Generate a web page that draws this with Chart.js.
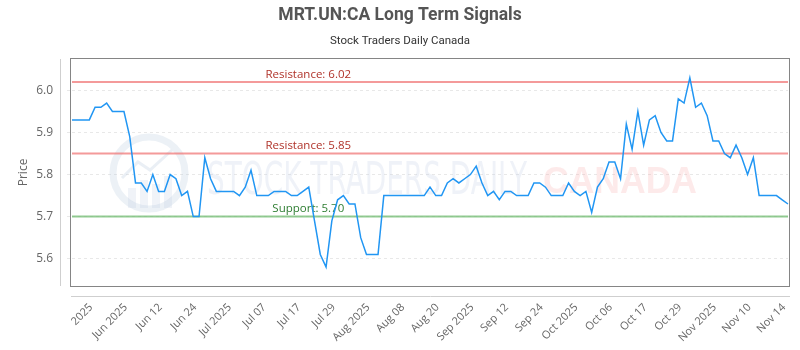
<!DOCTYPE html>
<html>
<head>
<meta charset="utf-8">
<script src="https://cdn.jsdelivr.net/npm/chart.js@4.4.1/dist/chart.umd.min.js"></script>
<style>
  html, body { margin: 0; padding: 0; background: #fff; }
  #wrap { width: 800px; height: 350px; }
</style>
</head>
<body>
<div id="wrap"><canvas id="signalChart" width="800" height="350"></canvas></div>
<script>
// Closing prices (one value per session)
const prices = [
  5.93, 5.93, 5.93, 5.93, 5.96, 5.96, 5.97, 5.95, 5.95, 5.95,
  5.89, 5.78, 5.78, 5.76, 5.80, 5.76, 5.76, 5.80, 5.79, 5.75,
  5.76, 5.70, 5.70, 5.84, 5.79, 5.76, 5.76, 5.76, 5.76, 5.75,
  5.77, 5.81, 5.75, 5.75, 5.75, 5.76, 5.76, 5.76, 5.75, 5.75,
  5.76, 5.77, 5.69, 5.61, 5.58, 5.69, 5.74, 5.75, 5.73, 5.73,
  5.65, 5.61, 5.61, 5.61, 5.75, 5.75, 5.75, 5.75, 5.75, 5.75,
  5.75, 5.75, 5.77, 5.75, 5.75, 5.78, 5.79, 5.78, 5.79, 5.80,
  5.82, 5.78, 5.75, 5.76, 5.74, 5.76, 5.76, 5.75, 5.75, 5.75,
  5.78, 5.78, 5.77, 5.75, 5.75, 5.75, 5.78, 5.76, 5.75, 5.76,
  5.71, 5.77, 5.79, 5.83, 5.83, 5.79, 5.92, 5.86, 5.95, 5.87,
  5.93, 5.94, 5.90, 5.88, 5.88, 5.98, 5.97, 6.03, 5.96, 5.97,
  5.94, 5.88, 5.88, 5.85, 5.84, 5.87, 5.84, 5.80, 5.84, 5.75,
  5.75, 5.75, 5.75, 5.74, 5.73
];

// the date labels that are shown on the x axis
const xTickLabels = [
  '2025', 'Jun 2025', 'Jun 12', 'Jun 24', 'Jul 2025', 'Jul 07', 'Jul 17',
  'Jul 29', 'Aug 2025', 'Aug 08', 'Aug 20', 'Sep 2025', 'Sep 12', 'Sep 24',
  'Oct 2025', 'Oct 06', 'Oct 17', 'Oct 29', 'Nov 2025', 'Nov 10', 'Nov 14'
];

// signal levels
const levelNames = ['Resistance', 'Resistance', 'Support'];
const levelValues = [6.02, 5.85, 5.70];

const yTicks = [5.6, 5.7, 5.8, 5.9, 6.0];

// one shown label every 6 sessions, starting at the 5th session
const labels = prices.map((_, i) => (i >= 4 && (i - 4) % 6 === 0) ? xTickLabels[(i - 4) / 6] : '');

const FONT = '"Open Sans", sans-serif';

const watermark = {
  id: 'watermark',
  beforeDatasetsDraw(chart) {
    const ctx = chart.ctx;
    ctx.save();
    // logo ring
    ctx.strokeStyle = 'rgba(170,190,215,0.22)';
    ctx.lineWidth = 7;
    ctx.beginPath();
    ctx.arc(149, 173, 36, 0, Math.PI * 2);
    ctx.stroke();
    ctx.fillStyle = 'rgba(170,190,215,0.18)';
    [[128, 188], [140, 180], [152, 184], [164, 176]].forEach(b => {
      ctx.fillRect(b[0], b[1], 8, 208 - b[1]);
    });
    ctx.strokeStyle = 'rgba(170,190,215,0.25)';
    ctx.lineWidth = 3;
    ctx.beginPath();
    ctx.moveTo(122, 178); ctx.lineTo(138, 162); ctx.lineTo(150, 170); ctx.lineTo(172, 150);
    ctx.stroke();

    // brand text
    ctx.textBaseline = 'alphabetic';
    ctx.font = '44px "DejaVu Sans"';
    let txt = 'STOCK TRADERS DAILY';
    let w = ctx.measureText(txt).width;
    ctx.fillStyle = 'rgba(180,198,222,0.22)';
    ctx.save();
    ctx.translate(207, 194);
    ctx.scale(320 / w, 1);
    ctx.fillText(txt, 0, 0);
    ctx.restore();

    ctx.font = 'bold 36px "Liberation Sans"';
    txt = 'CANADA';
    w = ctx.measureText(txt).width;
    ctx.fillStyle = 'rgba(245,150,150,0.2)';
    ctx.save();
    ctx.translate(543, 193);
    ctx.scale(154 / w, 1);
    ctx.fillText(txt, 0, 0);
    ctx.restore();
    ctx.restore();
  }
};

const levels = {
  id: 'levels',
  beforeDatasetsDraw(chart) {
    const { ctx, chartArea, scales } = chart;
    ctx.save();
    levelValues.forEach((v, k) => {
      const y = scales.y.getPixelForValue(v);
      const isRes = levelNames[k] === 'Resistance';
      ctx.strokeStyle = isRes ? 'rgba(240,120,120,0.75)' : 'rgba(110,185,110,0.75)';
      ctx.lineWidth = 2;
      ctx.beginPath();
      ctx.moveTo(chartArea.left, y);
      ctx.lineTo(chartArea.right, y);
      ctx.stroke();
      ctx.fillStyle = isRes ? '#b0332a' : '#2e7d32';
      ctx.font = '11.5px ' + FONT;
      ctx.textAlign = 'center';
      ctx.textBaseline = 'bottom';
      const x = chartArea.left + chartArea.width * 0.33;
      ctx.fillText(levelNames[k] + ': ' + v.toFixed(2), x, y - 2);
    });
    ctx.restore();
  }
};

const frame = {
  id: 'frame',
  afterDraw(chart) {
    const { ctx, chartArea: a } = chart;
    ctx.save();
    ctx.strokeStyle = '#858585';
    ctx.lineWidth = 1;
    ctx.strokeRect(Math.round(a.left) - 1.5, Math.round(a.top) - 0.5,
      Math.round(a.right - a.left) + 3, Math.round(a.bottom - a.top) + 1);
    ctx.strokeStyle = '#cfcfcf';
    ctx.beginPath();
    ctx.moveTo(Math.round(a.left) - 11.5, Math.round(a.top));
    ctx.lineTo(Math.round(a.left) - 11.5, Math.round(a.bottom));
    ctx.moveTo(Math.round(a.left) - 1, Math.round(a.bottom) + 10.5);
    ctx.lineTo(Math.round(a.right) + 2, Math.round(a.bottom) + 10.5);
    ctx.stroke();
    ctx.restore();
  }
};

new Chart(document.getElementById('signalChart'), {
  type: 'line',
  data: {
    labels: labels,
    datasets: [{
      label: 'MRT.UN:CA',
      data: prices,
      borderColor: '#2196f3',
      borderWidth: 1.5,
      pointRadius: 0,
      tension: 0,
      fill: false
    }]
  },
  options: {
    responsive: false,
    animation: false,
    layout: { padding: { left: 12, right: 12, top: 0, bottom: 0 } },
    plugins: {
      legend: { display: false },
      tooltip: { enabled: false },
      title: {
        display: true,
        text: 'MRT.UN:CA Long Term Signals',
        color: '#555',
        font: { family: 'Roboto', size: 17.5, weight: 'bold' },
        padding: { top: 5.5, bottom: 4 }
      },
      subtitle: {
        display: true,
        text: 'Stock Traders Daily Canada',
        color: '#333',
        font: { family: 'Roboto', size: 11.5 },
        padding: { top: 3.6, bottom: 11 }
      }
    },
    scales: {
      x: {
        grid: { display: false },
        border: { display: false },
        afterFit: (s) => { s.height = 64; s.paddingLeft = 0; s.paddingRight = 0; },
        ticks: {
          autoSkip: false,
          maxRotation: 45,
          minRotation: 45,
          padding: 7,
          labelOffset: -4,
          color: '#666',
          font: { family: FONT, size: 11 },
          callback: (v, i) => labels[i] || null
        }
      },
      y: {
        min: 5.535,
        max: 6.075,
        afterBuildTicks: (scale) => { scale.ticks = yTicks.map(v => ({ value: v })); },
        afterFit: (s) => { s.width = 60; s.paddingTop = 0; s.paddingBottom = 0; },
        grid: {
          color: 'rgba(0,0,0,0.09)',
          tickColor: 'rgba(0,0,0,0.09)',
          tickLength: 5,
          tickBorderDash: [3, 3]
        },
        border: { display: false, dash: [3, 3] },
        ticks: {
          padding: 14,
          color: '#666',
          font: { family: FONT, size: 12 },
          callback: (v) => v.toFixed(1)
        },
        title: {
          display: true,
          text: 'Price',
          color: '#666',
          font: { family: FONT, size: 12 }
        }
      }
    }
  },
  plugins: [watermark, levels, frame]
});
</script>
</body>
</html>
